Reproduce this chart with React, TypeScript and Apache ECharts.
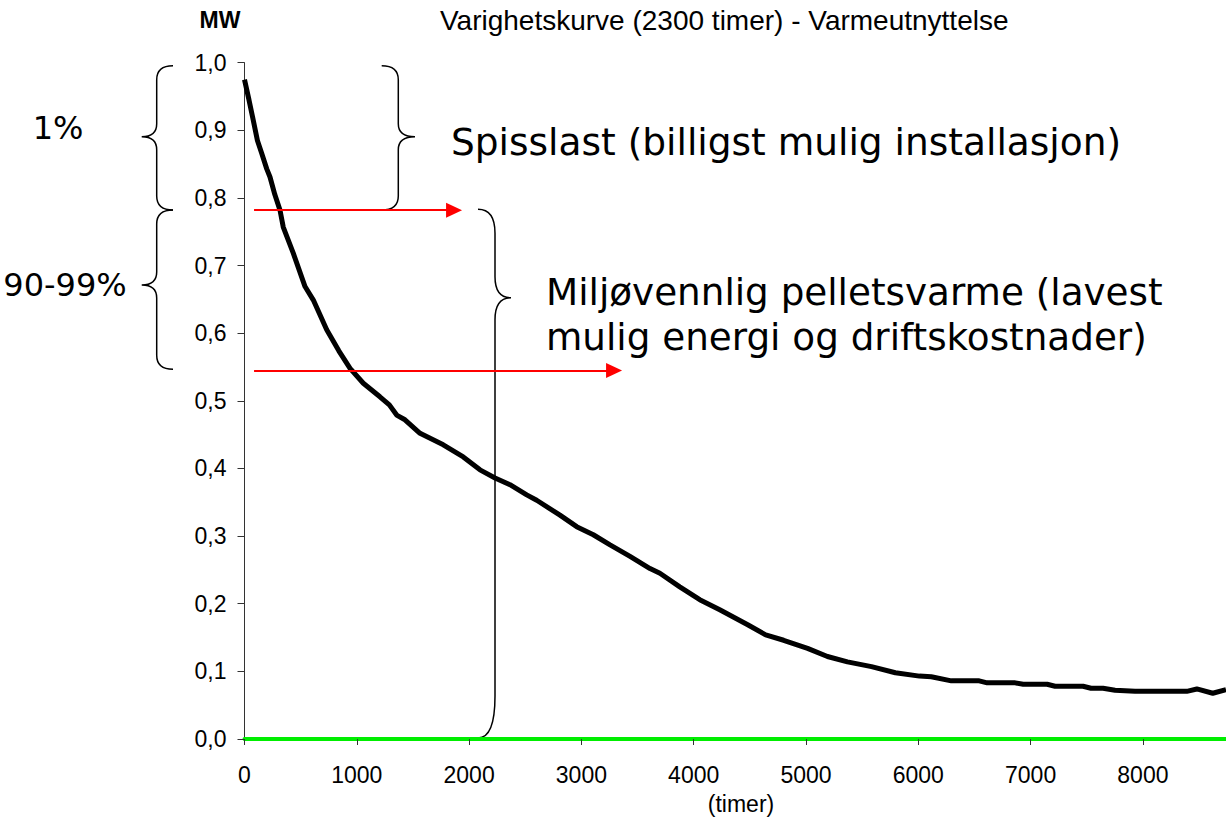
import React, { useEffect, useRef } from "react";
import * as echarts from "echarts";

// Duration curve (hours sorted by load, MW)
const hours = [
  0, 40, 78, 115, 153, 198, 227, 270, 316, 345, 435, 539, 613, 732, 840, 940,
  1058, 1206, 1290, 1355, 1429, 1563, 1770, 1948, 2097, 2231, 2364, 2513, 2602,
  2809, 2958, 3106, 3255, 3433, 3611, 3699, 3876, 4054, 4232, 4481, 4641, 4801,
  5014, 5191, 5369, 5583, 5796, 6010, 6116, 6294, 6542, 6613, 6863, 6934, 7147,
  7218, 7467, 7538, 7645, 7752, 7930, 8391, 8480, 8622, 8740,
];
const mw = [
  0.975, 0.945, 0.915, 0.885, 0.866, 0.843, 0.831, 0.805, 0.782, 0.757, 0.718,
  0.669, 0.649, 0.605, 0.574, 0.548, 0.526, 0.506, 0.494, 0.479, 0.472, 0.452,
  0.435, 0.417, 0.398, 0.386, 0.376, 0.361, 0.353, 0.331, 0.314, 0.302, 0.287,
  0.27, 0.252, 0.245, 0.225, 0.206, 0.191, 0.169, 0.154, 0.146, 0.134, 0.122,
  0.114, 0.107, 0.098, 0.093, 0.092, 0.086, 0.086, 0.083, 0.083, 0.081, 0.081,
  0.078, 0.078, 0.075, 0.075, 0.072, 0.0705, 0.0705, 0.074, 0.0676, 0.073,
];
const xTickValues = [0, 1000, 2000, 3000, 4000, 5000, 6000, 7000, 8000];

// Red threshold arrows (MW level, from hour, to hour)
const arrowLevels = [0.782, 0.545];
const arrowFrom = [85, 85];
const arrowTo = [1866, 3291];

const titleText = "Varighetskurve (2300 timer) - Varmeutnyttelse";
const yUnit = "MW";
const xUnit = "(timer)";
const peakText = "Spisslast (billigst mulig installasjon)";
const baseText1 = "Miljøvennlig pelletsvarme (lavest";
const baseText2 = "mulig energi og driftskostnader)";
const pct1 = "1%";
const pct2 = "90-99%";

function brace(
  xe: number, xl: number, xt: number,
  y1: number, ym: number, y2: number,
  r1: number, rm1: number, rm2: number, r2: number
) {
  return `M${xe} ${y1} Q${xl} ${y1} ${xl} ${y1 + r1} L${xl} ${ym - rm1} Q${xl} ${ym} ${xt} ${ym} Q${xl} ${ym} ${xl} ${ym + rm2} L${xl} ${y2 - r2} Q${xl} ${y2} ${xe} ${y2}`;
}

echarts.graphic.registerShape(
  "braceL1",
  echarts.graphic.extendPath(brace(173, 156.7, 141.7, 65.7, 136.7, 210, 14, 13, 13, 14), {})
);
echarts.graphic.registerShape(
  "braceL2",
  echarts.graphic.extendPath(brace(173, 156.7, 141.7, 210, 285, 369.3, 14, 13, 13, 14), {})
);
echarts.graphic.registerShape(
  "braceR1",
  echarts.graphic.extendPath(brace(381.7, 398.3, 415, 65.7, 136.7, 210, 14, 13, 13, 14), {})
);
echarts.graphic.registerShape(
  "braceR2",
  echarts.graphic.extendPath(brace(478, 495, 511, 209.3, 297.7, 738, 24, 21, 22, 42), {})
);

const braceStyle = { fill: "none", stroke: "#000", lineWidth: 1.5 };

export default function App() {
  const ref = useRef<HTMLDivElement>(null);
  useEffect(() => {
    if (!ref.current) return;
    const chart = echarts.init(ref.current, null, { renderer: "svg" });
    const data = hours.map((h, i) => [h, mw[i]]);
    const arrowData = arrowLevels.map((lv, i) => [
      { coord: [arrowFrom[i], lv] },
      { coord: [arrowTo[i], lv] },
    ]);
    chart.setOption({
      animation: false,
      backgroundColor: "#fff",
      grid: { left: 244.5, top: 62.7, right: 0, bottom: 78, containLabel: false },
      xAxis: {
        type: "value",
        min: 0,
        max: 8740,
        interval: 1000,
        axisLine: { show: true, onZero: true, lineStyle: { color: "#00EE00", width: 4 } },
        axisTick: {
          show: true,
          length: 6,
          customValues: xTickValues,
          lineStyle: { color: "#333", width: 1 },
        },
        axisLabel: {
          customValues: xTickValues,
          margin: 24,
          color: "#000",
          fontSize: 23,
          fontFamily: "Liberation Sans, Arial, sans-serif",
          formatter: (v: number) => String(v),
        },
        splitLine: { show: false },
      },
      yAxis: {
        type: "value",
        min: 0,
        max: 1,
        interval: 0.1,
        axisLine: { show: true, onZero: false, lineStyle: { color: "#333", width: 1 } },
        axisTick: { show: true, length: 7, lineStyle: { color: "#333", width: 1 } },
        axisLabel: {
          margin: 18,
          color: "#000",
          fontSize: 23,
          fontFamily: "Liberation Sans, Arial, sans-serif",
          formatter: (v: number) => v.toFixed(1).replace(".", ","),
        },
        splitLine: { show: false },
      },
      series: [
        {
          type: "line",
          data,
          showSymbol: false,
          symbol: "none",
          lineStyle: { color: "#000", width: 5 },
          z: 3,
          silent: true,
          markLine: {
            silent: true,
            symbol: ["none", "triangle"],
            symbolSize: [15, 16],
            label: { show: false },
            lineStyle: { color: "#FF0000", width: 2, type: "solid" },
            itemStyle: { color: "#FF0000" },
            emphasis: { disabled: true },
            data: arrowData,
          },
        },
      ],
      graphic: [
        {
          type: "text",
          x: 440,
          y: 20,
          style: {
            text: titleText,
            fontSize: 28,
            fontFamily: "Liberation Sans, Arial, sans-serif",
            fill: "#000",
            align: "left",
            verticalAlign: "middle",
          },
        },
        {
          type: "text",
          x: 220,
          y: 20,
          style: {
            text: yUnit,
            fontSize: 23,
            fontWeight: "bold",
            fontFamily: "Liberation Sans, Arial, sans-serif",
            fill: "#000",
            align: "center",
            verticalAlign: "middle",
          },
        },
        {
          type: "text",
          x: 741,
          y: 804,
          style: {
            text: xUnit,
            fontSize: 23,
            fontFamily: "Liberation Sans, Arial, sans-serif",
            fill: "#000",
            align: "center",
            verticalAlign: "middle",
          },
        },
        {
          type: "text",
          x: 451,
          y: 142,
          style: {
            text: peakText,
            fontSize: 37.5,
            fontFamily: "DejaVu Sans, sans-serif",
            fill: "#000",
            align: "left",
            verticalAlign: "middle",
          },
        },
        {
          type: "text",
          x: 546,
          y: 292,
          style: {
            text: baseText1,
            fontSize: 37.3,
            fontFamily: "DejaVu Sans, sans-serif",
            fill: "#000",
            align: "left",
            verticalAlign: "middle",
          },
        },
        {
          type: "text",
          x: 546,
          y: 337,
          style: {
            text: baseText2,
            fontSize: 37.3,
            fontFamily: "DejaVu Sans, sans-serif",
            fill: "#000",
            align: "left",
            verticalAlign: "middle",
          },
        },
        {
          type: "text",
          x: 58,
          y: 128,
          style: {
            text: pct1,
            fontSize: 32,
            fontFamily: "DejaVu Sans, sans-serif",
            fill: "#000",
            align: "center",
            verticalAlign: "middle",
          },
        },
        {
          type: "text",
          x: 65,
          y: 285,
          style: {
            text: pct2,
            fontSize: 32,
            fontFamily: "DejaVu Sans, sans-serif",
            fill: "#000",
            align: "center",
            verticalAlign: "middle",
          },
        },
        { type: "braceL1", x: 0, y: 0, scaleX: 1, scaleY: 1, silent: true, style: braceStyle },
        { type: "braceL2", x: 0, y: 0, scaleX: 1, scaleY: 1, silent: true, style: braceStyle },
        { type: "braceR1", x: 0, y: 0, scaleX: 1, scaleY: 1, silent: true, style: braceStyle },
        { type: "braceR2", x: 0, y: 0, scaleX: 1, scaleY: 1, silent: true, style: braceStyle },
      ],
    });
    return () => chart.dispose();
  }, []);
  return (
    <div
      ref={ref}
      style={{ position: "absolute", left: 0, top: 0, width: 1226, height: 817, background: "#fff" }}
    />
  );
}
